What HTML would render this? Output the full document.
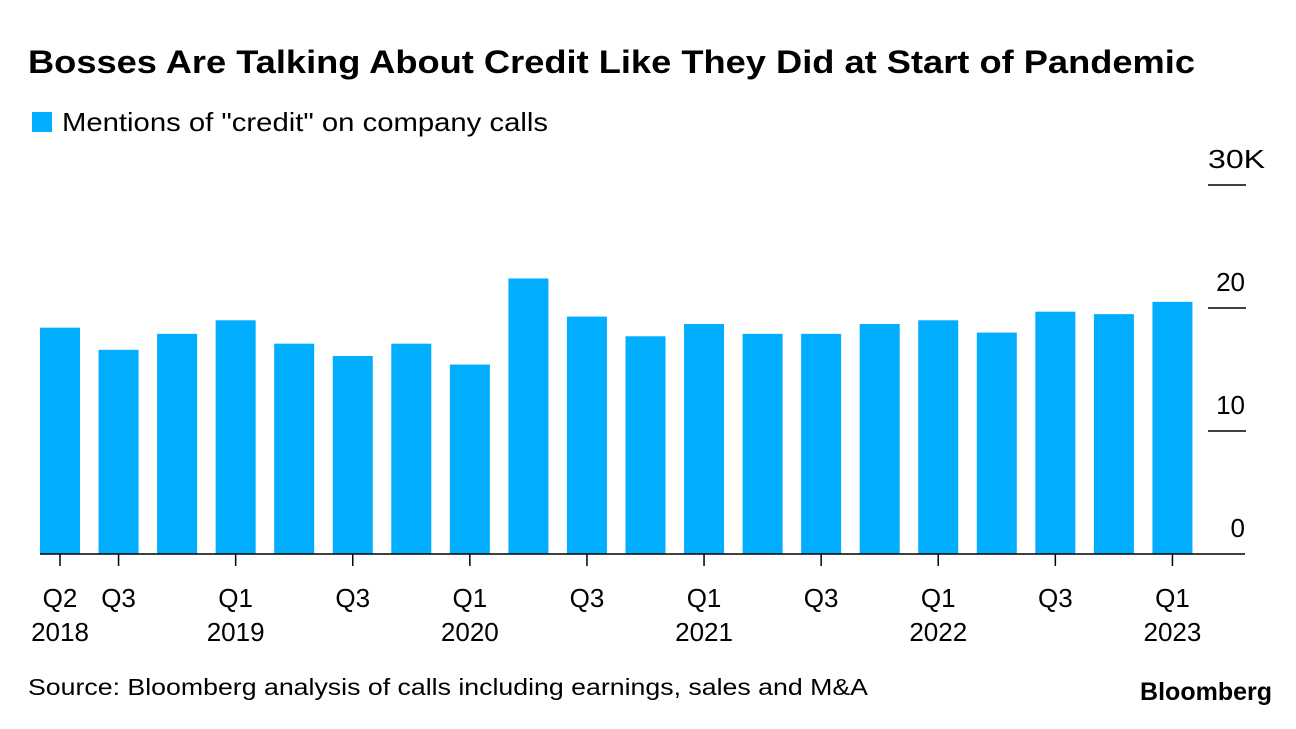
<!DOCTYPE html>
<html><head><meta charset="utf-8"><style>
body{margin:0;background:#fff;font-family:"Liberation Sans",sans-serif;}
svg text{font-family:"Liberation Sans",sans-serif;}
</style></head><body>
<svg width="1296" height="724" id="c">
<text x="28" y="73" font-size="32" font-weight="bold" fill="#000" textLength="1167" lengthAdjust="spacingAndGlyphs">Bosses Are Talking About Credit Like They Did at Start of Pandemic</text>
<rect x="32" y="112" width="20" height="20" fill="#00adff"/>
<text x="62" y="131" font-size="26" fill="#000" textLength="486" lengthAdjust="spacingAndGlyphs">Mentions of "credit" on company calls</text>
<text x="28" y="695" font-size="23" fill="#000" textLength="840" lengthAdjust="spacingAndGlyphs">Source: Bloomberg analysis of calls including earnings, sales and M&amp;A</text>
<text x="1272" y="700" font-size="25" font-weight="bold" text-anchor="end" fill="#000">Bloomberg</text>
<g id="plot"></g>
</svg>
<script>
const categories=["Q2 2018","Q3 2018","Q4 2018","Q1 2019","Q2 2019","Q3 2019","Q4 2019","Q1 2020","Q2 2020","Q3 2020","Q4 2020","Q1 2021","Q2 2021","Q3 2021","Q4 2021","Q1 2022","Q2 2022","Q3 2022","Q4 2022","Q1 2023"];
const values=[18.4,16.6,17.9,19.0,17.1,16.1,17.1,15.4,22.4,19.3,17.7,18.7,17.9,17.9,18.7,19.0,18.0,19.7,19.5,20.5];
const yTicks=[0,10,20,30];
const yTickLabels=["0","10","20","30K"];
const xLabels=[["Q2","2018"],["Q3",""],null,["Q1","2019"],null,["Q3",""],null,["Q1","2020"],null,["Q3",""],null,["Q1","2021"],null,["Q3",""],null,["Q1","2022"],null,["Q3",""],null,["Q1","2023"]];
const ns="http://www.w3.org/2000/svg";
const g=document.getElementById('plot');
const y0=554,pxPer=12.3;
const yS=v=>y0-v*pxPer;
const xS=i=>60+i*58.55;
function mk(t,a){const e=document.createElementNS(ns,t);for(const k in a)e.setAttribute(k,a[k]);g.appendChild(e);return e;}
values.forEach((v,i)=>{
 const r=mk('rect',{x:xS(i)-20,y:yS(v),width:40,height:v*pxPer,fill:'#00adff'});
 
 
});
mk('line',{x1:40,x2:1245,y1:y0,y2:y0,stroke:'#000','stroke-width':1.5});
yTicks.forEach((t,i)=>{
 if(t>0){const l=mk('line',{x1:1208,x2:1246,y1:yS(t),y2:yS(t),stroke:'#000','stroke-width':1.5});
 
 }
 const last=i===yTicks.length-1;
 const tx=mk('text',{x:last?1208:1245,y:yS(t)-17,'font-size':26,'text-anchor':last?'start':'end',fill:'#000'});
 if(last){tx.setAttribute('textLength','57');tx.setAttribute('lengthAdjust','spacingAndGlyphs');}
 tx.textContent=yTickLabels[i];
 
 
});
xLabels.forEach((lb,i)=>{
 if(!lb)return;
 const t=mk('line',{x1:xS(i),x2:xS(i),y1:y0,y2:y0+12,stroke:'#000','stroke-width':1.5});
 
 
 const a=mk('text',{x:xS(i),y:607,'font-size':26,'text-anchor':'middle',fill:'#000'});
 a.textContent=lb[0];
 
 
 if(lb[1]){const b=mk('text',{x:xS(i),y:641,'font-size':26,'text-anchor':'middle',fill:'#000'});
 b.textContent=lb[1];
 
 }
});
</script>
</body></html>
